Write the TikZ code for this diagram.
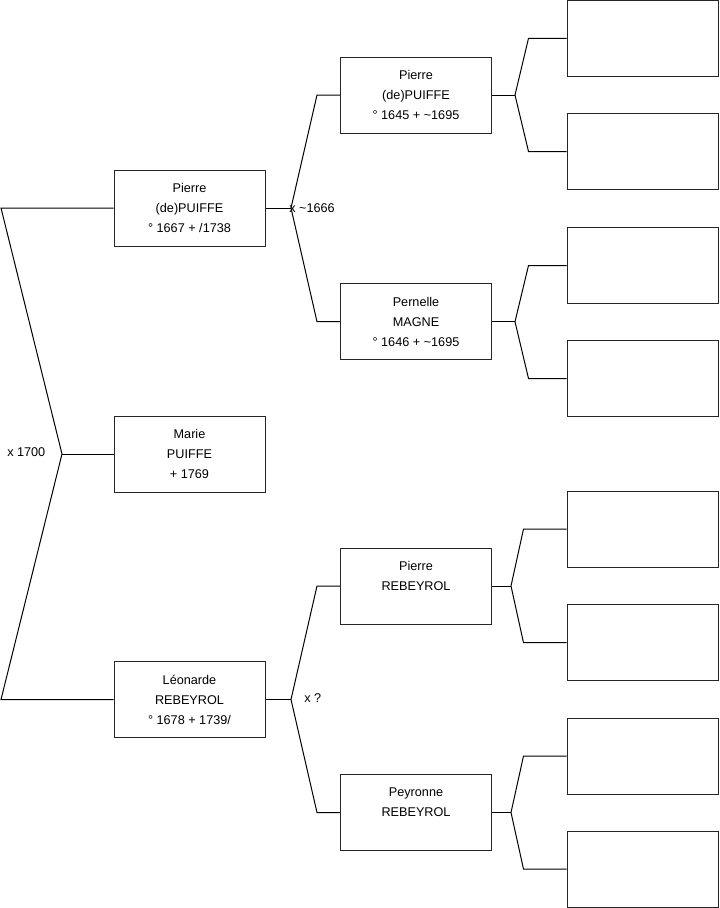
\documentclass[tikz,border=0pt]{standalone}
\usepackage{fontspec}
\setmainfont{Liberation Sans}
\usetikzlibrary{calc}
\begin{document}
\begin{tikzpicture}[x=0.75pt,y=-0.75pt,
  box/.style={draw=black!85, line width=0.75pt, minimum width=113.25pt, minimum height=57pt,
    inner sep=0pt, align=center, font=\fontsize{9.5pt}{15pt}\selectfont},
  conn/.style={draw=black, line width=0.75pt},
  lab/.style={font=\fontsize{9.5pt}{11pt}\selectfont, inner sep=0pt, anchor=west}]
\useasboundingbox (0,0) rectangle (719,908);
% left column
\node[box] (g1) at (189.5,208) {Pierre\\(de)PUIFFE\\° 1667 + /1738};
\node[box] (m)  at (189.5,454) {Marie\\PUIFFE\\+ 1769};
\node[box] (g2) at (189.5,699.5) {Léonarde\\REBEYROL\\° 1678 + 1739/};
% middle column
\node[box] (p1) at (416,95) {Pierre\\(de)PUIFFE\\° 1645 + \textasciitilde1695};
\node[box] (p2) at (416,321.7) {Pernelle\\MAGNE\\° 1646 + \textasciitilde1695};
\node[box] (p3) at (416,586) {Pierre\\REBEYROL\\\mbox{}};
\node[box] (p4) at (416,812.5) {Peyronne\\REBEYROL\\\mbox{}};
% right column
\node[box] (a1) at (642.5,38.3) {};
\node[box] (a2) at (642.5,151.5) {};
\node[box] (a3) at (642.5,265.5) {};
\node[box] (a4) at (642.5,378.5) {};
\node[box] (a5) at (642.5,529) {};
\node[box] (a6) at (642.5,642.7) {};
\node[box] (a7) at (642.5,756) {};
\node[box] (a8) at (642.5,869) {};
% vertices
\coordinate (v0) at (62,454);
\coordinate (l1) at (1,208);
\coordinate (l2) at (1,699.5);
\coordinate (w1) at (291,208);
\coordinate (w2) at (291,699.5);
\coordinate (u1) at (515,95);
\coordinate (u2) at (515,321.7);
\coordinate (u3) at (511,586);
\coordinate (u4) at (511,812.5);
% left bracket
\draw[conn] (g1.west) -- (l1) -- (v0) -- (l2) -- (g2.west);
\draw[conn] (v0) -- (m.west);
% middle brackets
\draw[conn] (g1.east) -- (w1);
\draw[conn] (p1.west) -- ++(-23,0) -- (w1) -- ($(p2.west)+(-17.25pt,0)$) -- (p2.west);
\draw[conn] (g2.east) -- (w2);
\draw[conn] (p3.west) -- ++(-23,0) -- (w2) -- ($(p4.west)+(-17.25pt,0)$) -- (p4.west);
% right brackets
\draw[conn] (p1.east) -- (u1);
\draw[conn] (a1.west) -- ++(-38,0) -- (u1) -- ($(a2.west)+(-28.5pt,0)$) -- (a2.west);
\draw[conn] (p2.east) -- (u2);
\draw[conn] (a3.west) -- ++(-38,0) -- (u2) -- ($(a4.west)+(-28.5pt,0)$) -- (a4.west);
\draw[conn] (p3.east) -- (u3);
\draw[conn] (a5.west) -- ++(-43,0) -- (u3) -- ($(a6.west)+(-32.25pt,0)$) -- (a6.west);
\draw[conn] (p4.east) -- (u4);
\draw[conn] (a7.west) -- ++(-43,0) -- (u4) -- ($(a8.west)+(-32.25pt,0)$) -- (a8.west);
% labels
\node[lab] (x1) at (289,208) {x \textasciitilde1666};
\node[lab] (x2) at (304,698) {x ?};
\node[lab] (x0) at (7,452) {x 1700};
\end{tikzpicture}
\end{document}
